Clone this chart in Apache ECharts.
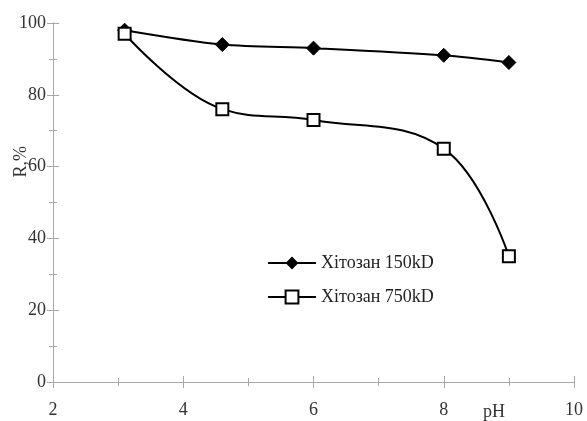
<!DOCTYPE html>
<html>
<head>
<meta charset="utf-8">
<script src="https://cdn.jsdelivr.net/npm/echarts@6/dist/echarts.min.js"></script>
<style>
  html, body { margin: 0; padding: 0; background: #fff; }
  #chart { width: 587px; height: 421px; }
</style>
</head>
<body>
<div id="chart"></div>
<script>
// pH values of the measurements
const phValues = [3.1, 4.6, 6, 8, 9];
// Removal degree R, % for each chitosan
const chitosan150 = [98, 94, 93, 91, 89];
const chitosan750 = [97, 76, 73, 65, 35];
const seriesNames = ['Хітозан 150kD', 'Хітозан 750kD'];
const xTicks = [2, 4, 6, 8, 10];
const yTicks = [0, 20, 40, 60, 80, 100];

const FONT = '"Liberation Serif", "DejaVu Serif", serif';
const AXIS_COLOR = '#a8a8a8';
const TEXT_COLOR = '#333';

const pairs = (xs, ys) => xs.map((x, i) => [x, ys[i]]);

const chart = echarts.init(document.getElementById('chart'), null, { renderer: 'canvas' });

const grid = { left: 53, right: 13, top: 23, bottom: 39, containLabel: false };

const baseX = {
  type: 'value', min: xTicks[0], max: xTicks[xTicks.length - 1], interval: 2,
  splitLine: { show: false },
  axisLine: { show: true, onZero: false, lineStyle: { color: AXIS_COLOR, width: 1 } }
};
const baseY = {
  type: 'value', min: yTicks[0], max: yTicks[yTicks.length - 1], interval: 20,
  splitLine: { show: false },
  axisLine: { show: true, onZero: false, lineStyle: { color: AXIS_COLOR, width: 1 } }
};

// Each axis is drawn twice (outside + inside ticks) so the tick marks cross the axis line
chart.setOption({
  animation: false,
  backgroundColor: '#fff',
  grid: grid,
  xAxis: [
    Object.assign({}, baseX, {
      position: 'bottom',
      axisTick: { show: true, length: 6, lineStyle: { color: AXIS_COLOR } },
      minorTick: { show: true, splitNumber: 2, length: 4, lineStyle: { color: AXIS_COLOR } },
      axisLabel: { color: TEXT_COLOR, fontFamily: FONT, fontSize: 18, margin: 19 }
    }),
    Object.assign({}, baseX, {
      position: 'bottom',
      axisTick: { show: true, inside: true, length: 6, lineStyle: { color: AXIS_COLOR } },
      minorTick: { show: true, splitNumber: 2, length: 4, lineStyle: { color: AXIS_COLOR } },
      axisLabel: { show: false }
    })
  ],
  yAxis: [
    Object.assign({}, baseY, {
      position: 'left',
      axisTick: { show: true, length: 6, lineStyle: { color: AXIS_COLOR } },
      minorTick: { show: true, splitNumber: 2, length: 4, lineStyle: { color: AXIS_COLOR } },
      axisLabel: { color: TEXT_COLOR, fontFamily: FONT, fontSize: 18, margin: 7 }
    }),
    Object.assign({}, baseY, {
      position: 'left',
      axisTick: { show: true, inside: true, length: 6, lineStyle: { color: AXIS_COLOR } },
      minorTick: { show: true, splitNumber: 2, length: 4, lineStyle: { color: AXIS_COLOR } },
      axisLabel: { show: false }
    })
  ],
  legend: {
    orient: 'vertical',
    left: 267,
    top: 254,
    padding: 0,
    itemWidth: 48,
    itemHeight: 16,
    itemGap: 16,
    textStyle: { color: '#222', fontFamily: FONT, fontSize: 18 },
    data: seriesNames
  },
  graphic: [
    {
      type: 'text', left: 12, top: 146, rotation: Math.PI / 2,
      style: { text: 'R,%', fill: TEXT_COLOR, font: '18px ' + FONT }
    },
    {
      type: 'text', left: 483, top: 403,
      style: { text: 'pH', fill: TEXT_COLOR, font: '18px ' + FONT }
    }
  ],
  series: [
    {
      name: seriesNames[0], type: 'line', xAxisIndex: 0, yAxisIndex: 0,
      data: pairs(phValues, chitosan150),
      smooth: 0.3,
      symbol: 'diamond', symbolSize: [14, 14],
      lineStyle: { color: '#000', width: 2 },
      itemStyle: { color: '#000', borderColor: '#000' },
      z: 2
    },
    {
      name: seriesNames[1], type: 'line', xAxisIndex: 0, yAxisIndex: 0,
      data: pairs(phValues, chitosan750),
      smooth: 0.4,
      symbol: 'rect', symbolSize: 12,
      lineStyle: { color: '#000', width: 2 },
      itemStyle: { color: '#fff', borderColor: '#000', borderWidth: 2 },
      z: 3
    }
  ]
});
</script>
</body>
</html>
